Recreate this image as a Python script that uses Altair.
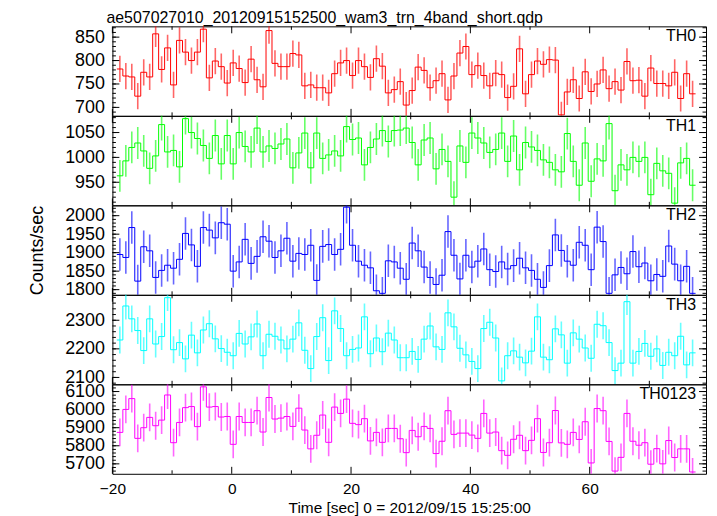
import altair as alt
import pandas as pd

TITLE = "ae507027010_20120915152500_wam3_trn_4band_short.qdp"
X_TITLE = "Time [sec] 0 = 2012/09/15 15:25:00"
Y_TITLE = "Counts/sec"

T_START = -18.75   # centre of first bin (s)
BIN = 1.0          # bin width (s)

NAMES = ["TH0", "TH1", "TH2", "TH3", "TH0123"]
COLORS = ["#ff0000", "#00ff00", "#0000ff", "#00ffff", "#ff00ff"]

TH0 = [782, 767, 765, 724, 775, 765, 857, 781, 827, 748,
       843, 818, 800, 818, 867, 763, 799, 787, 752, 795,
       783, 753, 803, 759, 744, 864, 794, 787, 787, 815,
       812, 746, 748, 742, 742, 731, 772, 795, 800, 768,
       800, 787, 764, 804, 788,
       731, 738, 755, 705, 736,
       786, 779, 742, 757, 772, 716, 767, 816, 830, 770,
       789, 768, 746, 773, 770, 721, 745, 825, 729, 770,
       799, 792, 802, 801, 684, 733, 759, 719, 776, 734,
       750, 780, 740, 755, 737, 798, 757, 758, 724, 784,
       751, 751, 746, 775, 719, 772, 729]

TH1 = [963, 993, 1020, 1029, 1013, 978, 1003, 1066, 1011, 1014,
       981, 1078, 1050, 1038, 1024, 998, 1044, 987, 1044, 987,
       1050, 1022, 1011, 1059, 1011, 1023, 1018, 1027, 1037, 979,
       1009, 1049, 979, 1049, 998, 1005, 1013, 1003, 1062, 1036,
       1039, 985, 1020, 1037, 1054,
       1032, 1054, 1055, 1059, 1030,
       985, 1035, 1039, 977, 1016, 992, 920, 1023, 990, 1049,
       1039, 1029, 1010, 1016, 1049, 992, 1043, 975, 1030, 1021,
       1014, 995, 990, 975, 971, 1048, 992, 944, 1029, 952,
       997, 993, 1068, 933, 985, 975, 1000, 992, 1000, 925,
       988, 973, 968, 908, 989, 998, 944]

TH2 = [1895, 1887, 1968, 1823, 1916, 1905, 1833, 1852, 1866, 1858,
       1882, 1952, 1921, 1863, 1968, 1961, 1940, 1981, 1977, 1850,
       1875, 1936, 1871, 1890, 1943, 1931, 1887, 1905, 1939, 1877,
       1898, 1895, 1920, 1825, 1917, 1922, 1895, 1909, 2023, 1920,
       1877, 1866, 1859, 1797, 1790,
       1878, 1875, 1858, 1828, 1926,
       1905, 1861, 1833, 1814, 1839, 1957, 1893, 1829, 1893, 1861,
       1877, 1910, 1854, 1849, 1875, 1856, 1865, 1885, 1859, 1852,
       1828, 1806, 1865, 1948, 1906, 1877, 1866, 1928, 1920, 1854,
       1969, 1930, 1790, 1840, 1860, 1843, 1903, 1862, 1872, 1824,
       1841, 1836, 1918, 1869, 1824, 1863, 1790]

TH3 = [2231, 2350, 2305, 2264, 2194, 2305, 2217, 2243, 2379, 2197,
       2222, 2165, 2248, 2186, 2266, 2288, 2235, 2201, 2188, 2176,
       2254, 2217, 2242, 2287, 2176, 2251, 2244, 2231, 2200, 2234,
       2291, 2195, 2131, 2243, 2309, 2159, 2333, 2271, 2176, 2198,
       2203, 2312, 2183, 2238, 2190,
       2255, 2231, 2169, 2169, 2191,
       2163, 2234, 2280, 2207, 2198, 2326, 2277, 2202, 2179, 2156,
       2131, 2271, 2293, 2238, 2088, 2176, 2193, 2171, 2151, 2192,
       2312, 2171, 2162, 2270, 2249, 2150, 2256, 2234, 2203, 2167,
       2286, 2281, 2222, 2124, 2150, 2365, 2150, 2191, 2219, 2174,
       2200, 2142, 2188, 2176, 2244, 2144, 2186]

TH0123 = [5874, 6001, 6061, 5841, 5900, 5957, 5911, 5942, 6081, 5817,
          5929, 6011, 6017, 5906, 6126, 6014, 6017, 5959, 5962, 5808,
          5962, 5929, 5929, 5994, 5876, 6067, 5948, 5953, 5962, 5907,
          6008, 5887, 5783, 5858, 5970, 5819, 6014, 5979, 6058, 5924,
          5917, 5950, 5827, 5874, 5819,
          5896, 5896, 5839, 5762, 5885,
          5850, 5907, 5896, 5757, 5825, 5994, 5863, 5870, 5870, 5859,
          5841, 5979, 5870, 5876, 5773, 5747, 5836, 5858, 5773, 5830,
          5950, 5763, 5817, 5995, 5816, 5808, 5874, 5835, 5933, 5705,
          6006, 5994, 5824, 5660, 5736, 5979, 5825, 5803, 5817, 5698,
          5784, 5700, 5829, 5735, 5783, 5783, 5655]

SERIES = [TH0, TH1, TH2, TH3, TH0123]
ERRS = [28, 32, 44, 47, 77]   # 1-sigma half-length of error bars

Y_DOMAINS = [[682, 873], [903.6, 1083.6], [1786, 2028], [2076, 2389], [5645, 6140]]
Y_MAJOR = [[700, 750, 800, 850],
           [950, 1000, 1050],
           [1800, 1850, 1900, 1950, 2000],
           [2100, 2200, 2300],
           [5700, 5800, 5900, 6000, 6100]]
Y_MINOR = [list(range(690, 873, 10)),
           list(range(910, 1084, 10)),
           list(range(1790, 2028, 10)),
           list(range(2080, 2389, 20)),
           list(range(5660, 6140, 20))]

X_DOMAIN = [-20, 79.5]
X_MAJOR = [-20, 0, 20, 40, 60]
X_MINOR = [-10, 10, 30, 50, 70]

W, H = 597, 90
FONT = "Liberation Sans"
MAJ, MIN = 7, 3.5


def panel(k):
    vals = SERIES[k]
    color = COLORS[k]
    centers = [T_START + i * BIN for i in range(len(vals))]
    pts = pd.DataFrame({"t": centers, "v": vals})
    pts["lo"] = pts["v"] - ERRS[k]
    pts["hi"] = pts["v"] + ERRS[k]
    steps = pd.DataFrame({"t": [c - BIN / 2 for c in centers] + [centers[-1] + BIN / 2],
                          "v": list(vals) + [vals[-1]]})

    xs = alt.Scale(domain=X_DOMAIN, nice=False, zero=False)
    ys = alt.Scale(domain=Y_DOMAINS[k], nice=False, zero=False)

    if k == len(SERIES) - 1:
        xaxis = alt.Axis(values=X_MAJOR, ticks=False, domain=False, grid=False,
                         labelFlush=False, labelOverlap=False, format="d",
                         labelFont=FONT, labelFontSize=15.5,
                         labelColor="black", labelPadding=8, title=X_TITLE,
                         titleFont=FONT, titleFontSize=15.5, titleFontWeight="normal",
                         titleColor="black", titlePadding=3)
    else:
        xaxis = alt.Axis(values=X_MAJOR, ticks=False, domain=False, grid=False,
                         labels=False, title="")

    yaxis = alt.Axis(values=Y_MAJOR[k], ticks=False, domain=False, grid=False,
                     labelOverlap=False, format="d",
                     labelFont=FONT, labelFontSize=18, labelColor="black", labelPadding=8,
                     title=(Y_TITLE if k == 2 else ""),
                     titleFont=FONT, titleFontSize=18, titleFontWeight="normal",
                     titleColor="black", titlePadding=18)

    def xe(field):
        return alt.X(field, type="quantitative", scale=xs, axis=xaxis)

    def ye(field):
        return alt.Y(field, type="quantitative", scale=ys, axis=yaxis)

    err = alt.Chart(pts).mark_rule(stroke=color, strokeWidth=1.6, opacity=0.6, clip=True).encode(
        x=xe("t"), y=ye("lo"), y2="hi:Q")
    line = alt.Chart(steps).mark_line(interpolate="step-after", stroke=color, color=color,
                                      strokeWidth=1, opacity=1, clip=True).encode(
        x=xe("t"), y=ye("v"))

    layers = [err, line]
    for vals_, ln in ((Y_MAJOR[k], MAJ), (Y_MINOR[k], MIN)):
        base = alt.Chart(pd.DataFrame({"v": vals_})).mark_rule(color="black", strokeWidth=1)
        layers.append(base.encode(y=ye("v"), x=alt.value(0), x2=alt.value(ln)))
        layers.append(base.encode(y=ye("v"), x=alt.value(W - ln), x2=alt.value(W)))
    for vals_, ln in ((X_MAJOR, MAJ), (X_MINOR, MIN)):
        base = alt.Chart(pd.DataFrame({"t": vals_})).mark_rule(color="black", strokeWidth=1)
        layers.append(base.encode(x=xe("t"), y=alt.value(0), y2=alt.value(ln)))
        layers.append(base.encode(x=xe("t"), y=alt.value(H - ln), y2=alt.value(H)))

    label = alt.Chart(pd.DataFrame({"name": [NAMES[k]]})).mark_text(
        align="right", baseline="top", font=FONT, fontSize=16, color="black"
    ).encode(x=alt.value(W - 10), y=alt.value(2), text="name:N")
    layers.append(label)

    ch = alt.layer(*layers).properties(width=W, height=H)
    if k == 0:
        ch = ch.properties(title=alt.TitleParams(
            TITLE, anchor="start", frame="group", font=FONT, fontSize=16,
            fontWeight="normal", color="black", dx=-6, offset=0))
    return ch


panels = [panel(k) for k in range(len(SERIES))]
chart = alt.vconcat(*panels, spacing=0, bounds="flush").properties(
    padding={"left": 20, "top": 0, "right": 2, "bottom": 0}
).configure_view(stroke="black", strokeWidth=1)

chart.save("out.html", embed_options={"renderer": "svg", "actions": False})
